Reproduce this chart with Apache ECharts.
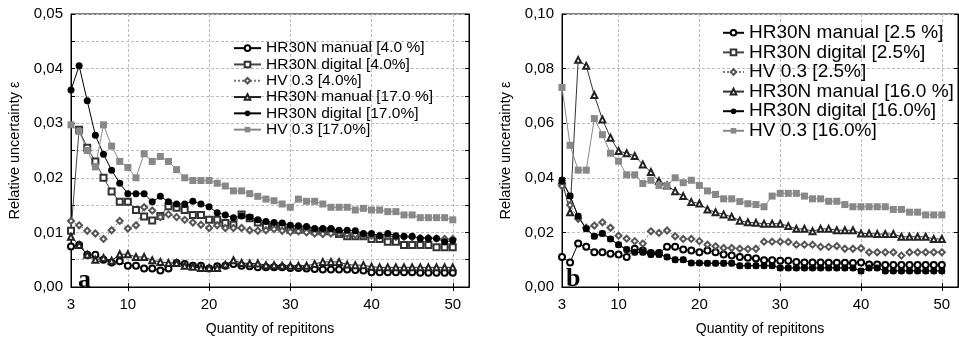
<!DOCTYPE html>
<html>
<head>
<meta charset="utf-8">
<script src="https://cdn.jsdelivr.net/npm/echarts@6/dist/echarts.min.js"></script>
<style>
  html, body { margin: 0; padding: 0; background: #fff; }
  #chart { width: 959px; height: 341px; }
</style>
</head>
<body>
<div id="chart"></div>
<script>
// quantity of repetitions (x)
var reps = [3,4,5,6,7,8,9,10,11,12,13,14,15,16,17,18,19,20,21,22,23,24,25,26,
            27,28,29,30,31,32,33,34,35,36,37,38,39,40,41,42,43,44,45,46,47,48,49,50];
var xTickLabels = [3, 10, 20, 30, 40, 50];
var xGridTicks = [10, 20, 30, 40, 50];
var leftYLabels = [0, 0.01, 0.02, 0.03, 0.04, 0.05];

// chart a
var aManual4 = [0.0074,0.0077,0.0059,0.0059,0.0050,0.0045,0.0047,0.0039,0.0039,0.0034,0.0034,0.0030,
  0.0034,0.0044,0.0042,0.0039,0.0039,0.0034,0.0038,0.0039,0.0042,0.0039,0.0038,0.0036,
  0.0036,0.0036,0.0036,0.0035,0.0035,0.0034,0.0033,0.0032,0.0032,0.0032,0.0032,0.0031,
  0.0030,0.0027,0.0027,0.0027,0.0027,0.0027,0.0027,0.0026,0.0026,0.0026,0.0026,0.0026];
var aDigital4 = [0.0103,0.0288,0.0255,0.0230,0.0200,0.0175,0.0156,0.0156,0.0141,0.0129,0.0122,0.0130,
  0.0148,0.0145,0.0141,0.0132,0.0132,0.0123,0.0123,0.0117,0.0114,0.0133,0.0126,0.0118,
  0.0112,0.0111,0.0111,0.0105,0.0105,0.0105,0.0102,0.0102,0.0102,0.0097,0.0093,0.0093,
  0.0093,0.0088,0.0088,0.0083,0.0083,0.0077,0.0077,0.0077,0.0077,0.0073,0.0073,0.0073];
var aHv4 = [0.0121,0.0113,0.0103,0.0098,0.0088,0.0104,0.0121,0.0107,0.0113,0.0146,0.0140,0.0128,
  0.0133,0.0128,0.0123,0.0118,0.0114,0.0108,0.0113,0.0108,0.0108,0.0108,0.0104,0.0103,
  0.0104,0.0106,0.0103,0.0101,0.0102,0.0100,0.0098,0.0097,0.0098,0.0098,0.0097,0.0096,
  0.0095,0.0094,0.0094,0.0093,0.0092,0.0092,0.0091,0.0090,0.0090,0.0089,0.0088,0.0088];
var aManual17 = [0.0092,0.0077,0.0059,0.0050,0.0053,0.0048,0.0060,0.0060,0.0055,0.0055,0.0049,0.0046,
  0.0044,0.0044,0.0039,0.0037,0.0035,0.0035,0.0035,0.0041,0.0049,0.0044,0.0043,0.0043,
  0.0040,0.0040,0.0039,0.0039,0.0039,0.0039,0.0042,0.0046,0.0046,0.0046,0.0041,0.0040,
  0.0040,0.0037,0.0036,0.0036,0.0036,0.0036,0.0036,0.0036,0.0036,0.0036,0.0036,0.0036];
var aDigital17 = [0.0361,0.0405,0.0341,0.0278,0.0243,0.0214,0.0190,0.0171,0.0171,0.0171,0.0156,0.0166,
  0.0156,0.0152,0.0152,0.0157,0.0152,0.0147,0.0136,0.0132,0.0127,0.0130,0.0128,0.0123,
  0.0120,0.0118,0.0117,0.0113,0.0112,0.0111,0.0107,0.0107,0.0107,0.0104,0.0104,0.0103,
  0.0098,0.0098,0.0094,0.0098,0.0094,0.0093,0.0093,0.0089,0.0089,0.0089,0.0083,0.0085];
var aHv17 = [0.0297,0.0285,0.0250,0.0220,0.0297,0.0258,0.0230,0.0219,0.0200,0.0244,0.0230,0.0239,
  0.0230,0.0215,0.0200,0.0195,0.0195,0.0195,0.0190,0.0185,0.0176,0.0176,0.0171,0.0166,
  0.0161,0.0158,0.0152,0.0146,0.0161,0.0157,0.0157,0.0152,0.0146,0.0146,0.0146,0.0141,
  0.0144,0.0141,0.0141,0.0138,0.0138,0.0132,0.0132,0.0127,0.0127,0.0127,0.0127,0.0123];

// chart b
var bManual25 = [0.0110,0.0090,0.0159,0.0147,0.0127,0.0127,0.0122,0.0119,0.0110,0.0140,0.0134,0.0125,
  0.0125,0.0147,0.0147,0.0137,0.0134,0.0127,0.0134,0.0127,0.0119,0.0115,0.0110,0.0107,
  0.0104,0.0098,0.0098,0.0096,0.0096,0.0092,0.0090,0.0090,0.0090,0.0089,0.0089,0.0089,
  0.0088,0.0090,0.0082,0.0082,0.0081,0.0081,0.0081,0.0081,0.0081,0.0081,0.0081,0.0081];
var bDigital25 = [0.0391,0.0333,0.0259,0.0213,0.0186,0.0196,0.0176,0.0155,0.0137,0.0127,0.0127,0.0119,
  0.0119,0.0110,0.0100,0.0100,0.0088,0.0088,0.0087,0.0087,0.0087,0.0087,0.0078,0.0078,
  0.0078,0.0078,0.0078,0.0070,0.0070,0.0070,0.0070,0.0070,0.0070,0.0070,0.0070,0.0070,
  0.0070,0.0059,0.0070,0.0070,0.0059,0.0059,0.0059,0.0059,0.0059,0.0059,0.0059,0.0059];
var bHv25 = [0.0370,0.0300,0.0250,0.0217,0.0225,0.0237,0.0217,0.0188,0.0177,0.0168,0.0159,0.0204,
  0.0198,0.0207,0.0186,0.0176,0.0176,0.0168,0.0155,0.0149,0.0143,0.0143,0.0140,0.0139,
  0.0140,0.0166,0.0166,0.0166,0.0165,0.0155,0.0155,0.0155,0.0147,0.0147,0.0150,0.0140,
  0.0140,0.0142,0.0127,0.0127,0.0127,0.0127,0.0115,0.0127,0.0127,0.0127,0.0127,0.0127];
var bManual16 = [0.0390,0.0274,0.0832,0.0810,0.0703,0.0614,0.0547,0.0498,0.0490,0.0480,0.0449,0.0421,
  0.0388,0.0372,0.0351,0.0333,0.0311,0.0306,0.0284,0.0274,0.0266,0.0257,0.0243,0.0237,
  0.0235,0.0232,0.0232,0.0232,0.0223,0.0213,0.0213,0.0204,0.0213,0.0213,0.0208,0.0208,
  0.0208,0.0196,0.0196,0.0194,0.0194,0.0194,0.0184,0.0184,0.0184,0.0184,0.0176,0.0176];
var bDigital16 = [0.0391,0.0333,0.0259,0.0213,0.0186,0.0196,0.0176,0.0155,0.0137,0.0127,0.0127,0.0119,
  0.0119,0.0110,0.0100,0.0100,0.0088,0.0088,0.0087,0.0087,0.0087,0.0087,0.0078,0.0078,
  0.0078,0.0078,0.0078,0.0070,0.0070,0.0070,0.0070,0.0070,0.0070,0.0070,0.0070,0.0070,
  0.0070,0.0059,0.0070,0.0070,0.0059,0.0059,0.0059,0.0059,0.0059,0.0059,0.0059,0.0059];
var bHv16 = [0.0731,0.0519,0.0428,0.0428,0.0617,0.0558,0.0490,0.0461,0.0411,0.0411,0.0379,0.0391,
  0.0372,0.0372,0.0400,0.0382,0.0391,0.0372,0.0352,0.0339,0.0323,0.0323,0.0313,0.0305,
  0.0302,0.0294,0.0333,0.0343,0.0343,0.0343,0.0333,0.0323,0.0323,0.0314,0.0314,0.0302,
  0.0294,0.0294,0.0294,0.0294,0.0294,0.0284,0.0284,0.0274,0.0274,0.0264,0.0264,0.0264];

var FONT = 'Liberation Sans';
var myChart = echarts.init(document.getElementById('chart'));

function pairs(vals) {
  return reps.map(function (x, i) { return [x, vals[i]]; });
}
function comma(v) { return v.toFixed(2).replace('.', ','); }

function bottomAxis(g) {
  return {
    type: 'value', gridIndex: g, position: 'bottom', min: 3, max: 52,
    name: 'Quantity of repititons', nameLocation: 'middle', nameGap: 35,
    nameTextStyle: { fontFamily: FONT, fontSize: 14, color: '#000' },
    axisLine: { lineStyle: { color: '#000' } },
    axisTick: { inside: true, length: 4, customValues: xGridTicks, lineStyle: { color: '#000' } },
    axisLabel: { customValues: xTickLabels, fontFamily: FONT, fontSize: 15, color: '#000', margin: 10 },
    splitLine: { show: true, lineStyle: { color: '#bdbdbd', type: [3, 2] } }
  };
}
function topAxis(g) {
  return {
    type: 'value', gridIndex: g, position: 'top', min: 3, max: 52,
    axisLine: { lineStyle: { color: '#000' } },
    axisTick: { inside: true, length: 4, customValues: xGridTicks, lineStyle: { color: '#000' } },
    axisLabel: { show: false }, splitLine: { show: false }
  };
}
function leftAxis(g, max, step, labels) {
  var ax = {
    type: 'value', gridIndex: g, position: 'left', min: 0, max: max, interval: step,
    name: 'Relative uncertainty ε', nameLocation: 'middle', nameGap: 49,
    nameTextStyle: { fontFamily: FONT, fontSize: 14.5, color: '#000' },
    axisLine: { show: true, lineStyle: { color: '#000' } },
    axisTick: { show: true, inside: true, length: 4, lineStyle: { color: '#000' } },
    axisLabel: { fontFamily: FONT, fontSize: 15, color: '#000', margin: 8, formatter: comma },
    splitLine: { show: true, lineStyle: { color: '#bdbdbd', type: [3, 2] } }
  };
  if (labels) ax.axisLabel.customValues = labels;
  return ax;
}
function rightAxis(g, max, step) {
  return {
    type: 'value', gridIndex: g, position: 'right', min: 0, max: max, interval: step,
    axisLine: { show: true, lineStyle: { color: '#000' } },
    axisTick: { show: true, inside: true, length: 4, lineStyle: { color: '#000' } },
    axisLabel: { show: false }, splitLine: { show: false }
  };
}

function line(name, vals, g, symbol, size, color, lineColor, lineType) {
  return {
    name: name, type: 'line', xAxisIndex: g * 2, yAxisIndex: g * 2,
    data: pairs(vals), symbol: symbol, symbolSize: size, showAllSymbol: true,
    itemStyle: { color: color, borderWidth: 1 },
    lineStyle: { color: lineColor, width: 1, type: lineType || 'solid' },
    emphasis: { disabled: true }
  };
}

var aNames = ['HR30N manual [4.0 %]', 'HR30N digital [4.0%]', 'HV 0.3 [4.0%]',
              'HR30N manual [17.0 %]', 'HR30N digital [17.0%]', 'HV 0.3 [17.0%]'];
var bNames = ['HR30N manual [2.5 %]', 'HR30N digital [2.5%]', 'HV 0.3 [2.5%]',
              'HR30N manual [16.0 %]', 'HR30N digital [16.0%]', 'HV 0.3 [16.0%]'];

var option = {
  animation: false,
  backgroundColor: '#fff',
  grid: [
    { left: 71, top: 14, width: 398, height: 273, show: true, borderColor: '#000', borderWidth: 1 },
    { left: 562, top: 14, width: 396, height: 273, show: true, borderColor: '#000', borderWidth: 1 }
  ],
  xAxis: [bottomAxis(0), topAxis(0), bottomAxis(1), topAxis(1)],
  yAxis: [leftAxis(0, 0.05, 0.005, leftYLabels), rightAxis(0, 0.05, 0.005),
          leftAxis(1, 0.1, 0.02), rightAxis(1, 0.1, 0.02)],
  legend: [
    { data: aNames, orient: 'vertical', left: 228, top: 35, itemWidth: 27, itemHeight: 7, itemGap: 0,
      selectedMode: false, textStyle: { fontFamily: FONT, fontSize: 15.5, lineHeight: 16.3, color: '#000' } },
    { data: bNames, orient: 'vertical', left: 717, top: 18, itemWidth: 21, itemHeight: 7, itemGap: 0,
      selectedMode: false, textStyle: { fontFamily: FONT, fontSize: 19, lineHeight: 19.6, color: '#000' } }
  ],
  graphic: [
    { type: 'text', left: 78, top: 267, style: { text: 'a', font: 'bold 26px "Liberation Serif"', fill: '#000' } },
    { type: 'text', left: 566, top: 266, style: { text: 'b', font: 'bold 26px "Liberation Serif"', fill: '#000' } }
  ],
  series: [
    line(aNames[0], aManual4, 0, 'emptyCircle', 6, '#000', '#000'),
    line(aNames[1], aDigital4, 0, 'emptyRect', 6, '#333', '#444'),
    line(aNames[2], aHv4, 0, 'emptyDiamond', 6, '#555', '#777', [2, 2]),
    line(aNames[3], aManual17, 0, 'emptyTriangle', 6, '#222', '#222'),
    line(aNames[4], aDigital17, 0, 'circle', 7, '#000', '#000'),
    line(aNames[5], aHv17, 0, 'rect', 7, '#888', '#888'),
    line(bNames[0], bManual25, 1, 'emptyCircle', 6, '#000', '#000'),
    line(bNames[1], bDigital25, 1, 'emptyRect', 4, '#333', '#444'),
    line(bNames[2], bHv25, 1, 'emptyDiamond', 6, '#555', '#777', [2, 2]),
    line(bNames[3], bManual16, 1, 'emptyTriangle', 6, '#222', '#333'),
    line(bNames[4], bDigital16, 1, 'circle', 7, '#000', '#000'),
    line(bNames[5], bHv16, 1, 'rect', 7, '#888', '#888')
  ]
};
myChart.setOption(option);
</script>
</body>
</html>
